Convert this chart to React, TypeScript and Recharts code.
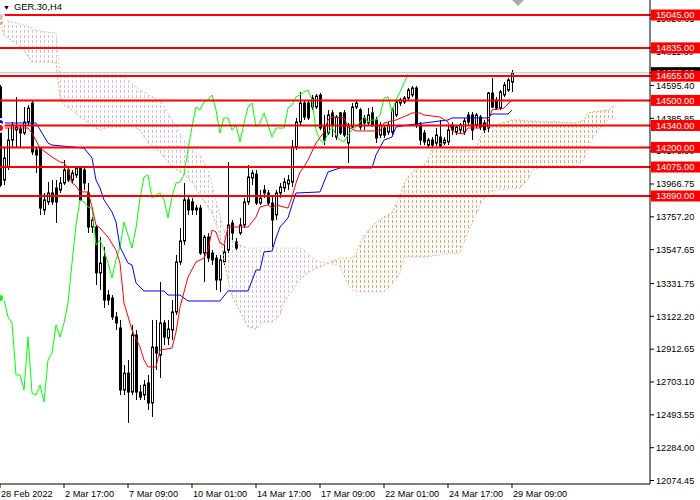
import React from 'react';
import { ComposedChart, Bar, Line, Area, XAxis, YAxis, ReferenceLine, ReferenceDot } from 'recharts';

// Zeitachse (H4-Bars, Index = Bar-Nummer)
const timeTicks = [0, 16, 32, 48, 64, 80, 96, 112, 128];
const timeLabels = ['28 Feb 2022', '2 Mar 17:00', '7 Mar 09:00', '10 Mar 01:00', '14 Mar 17:00', '17 Mar 09:00', '22 Mar 01:00', '24 Mar 17:00', '29 Mar 09:00'];

const priceTicks = [15020.65, 14811.3, 14595.4, 14385.85, 14176.3, 13966.75, 13757.2, 13547.65, 13331.75, 13122.2, 12912.65, 12703.1, 12493.55, 12284.0, 12074.45];
const levels = [15045, 14835, 14655, 14500, 14340, 14200, 14075, 13890];
const bidPrice = 14677;

// OHLC je Bar
const opens = [
  14586, 13992, 14075, 14247, 14311, 14318, 14292, 14362, 14483, 14184,
  14196, 13801, 13852, 13909, 13941, 13928, 13973, 14056, 13992, 14024,
  14069, 14056, 13909, 13692, 13692, 13399, 13501, 13258, 13239, 13118,
  13048, 12652, 12760, 12639, 13003, 12639, 12620, 12697, 12569, 12926,
  12875, 13080, 12984, 13035, 13150, 13469, 13603, 13865, 13852, 13813,
  13813, 13526, 13628, 13526, 13494, 13354, 13469, 13545, 13718, 13596,
  13654, 13705, 13852, 14005, 14030, 13845, 13928, 13909, 13845, 13769,
  13909, 13941, 13967, 13979, 14203, 14362, 14483, 14483, 14458, 14458,
  14535, 14330, 14292, 14420, 14266, 14420, 14420, 14228, 14330, 14458,
  14439, 14388, 14356, 14420, 14375, 14279, 14324, 14298, 14298, 14407,
  14483, 14490, 14515, 14535, 14579, 14343, 14292, 14215, 14247, 14228,
  14266, 14228, 14235, 14343, 14298, 14311, 14298, 14407, 14407, 14343,
  14394, 14356, 14324, 14547, 14503, 14451, 14535, 14566, 14617,
];
const highs = [
  14598, 14203, 14324, 14362, 14522, 14343, 14458, 14471, 14503, 14203,
  14203, 13909, 13979, 13992, 13992, 14011, 14120, 14069, 14056, 14075,
  14075, 14069, 13973, 13756, 13705, 13628, 13565, 13290, 13258, 13150,
  13099, 12811, 12843, 13067, 13035, 12684, 12716, 12748, 13099, 13099,
  13341, 13099, 13099, 13226, 13514, 13686, 13973, 13896, 13877, 13833,
  13833, 13641, 13654, 13545, 13514, 13514, 13577, 14107, 13737, 13622,
  13750, 13877, 14088, 14056, 14056, 13928, 13960, 13928, 13896, 13928,
  13973, 14005, 14024, 14247, 14388, 14554, 14503, 14503, 14535, 14541,
  14547, 14407, 14439, 14439, 14407, 14426, 14439, 14356, 14483, 14496,
  14451, 14407, 14451, 14458, 14394, 14362, 14343, 14362, 14451, 14503,
  14515, 14528, 14579, 14592, 14592, 14362, 14311, 14260, 14266, 14324,
  14375, 14266, 14343, 14362, 14343, 14356, 14388, 14426, 14426, 14420,
  14407, 14375, 14554, 14643, 14522, 14566, 14617, 14643, 14694,
];
const lows = [
  13948, 13960, 14056, 14203, 14196, 14196, 14279, 14343, 14152, 14037,
  13769, 13769, 13833, 13833, 13718, 13909, 13960, 13979, 13973, 14005,
  13858, 13928, 13654, 13654, 13322, 13290, 13175, 13194, 13099, 13035,
  12620, 12620, 12442, 12620, 12588, 12588, 12588, 12524, 12480, 12780,
  12729, 12939, 12939, 12971, 13131, 13450, 13577, 13769, 13769, 13769,
  13514, 13341, 13469, 13450, 13290, 13277, 13450, 13526, 13609, 13545,
  13641, 13686, 13833, 13960, 13833, 13833, 13877, 13833, 13565, 13737,
  13877, 13916, 13928, 13948, 14184, 14343, 14375, 14375, 14439, 14445,
  14311, 14215, 14279, 14266, 14247, 14279, 14266, 14101, 14324, 14445,
  14311, 14311, 14343, 14330, 14228, 14260, 14260, 14279, 14279, 14394,
  14464, 14477, 14503, 14522, 14324, 14215, 14215, 14196, 14203, 14209,
  14196, 14215, 14215, 14279, 14279, 14292, 14279, 14343, 14247, 14324,
  14311, 14292, 14298, 14451, 14439, 14439, 14522, 14554, 14554,
];
const closes = [
  13960, 14133, 14247, 14343, 14330, 14292, 14362, 14451, 14171, 14152,
  13813, 13865, 13909, 13852, 13852, 13973, 14056, 13992, 14037, 14069,
  13865, 13973, 13692, 13737, 13399, 13462, 13226, 13226, 13118, 13080,
  12652, 12760, 12639, 13003, 12639, 12607, 12684, 12569, 12926, 12888,
  13080, 12990, 13041, 13150, 13469, 13603, 13865, 13801, 13801, 13801,
  13526, 13628, 13494, 13482, 13354, 13482, 13533, 13705, 13654, 13558,
  13705, 13852, 14011, 14037, 13845, 13877, 13909, 13845, 13737, 13909,
  13948, 13979, 13992, 14203, 14362, 14483, 14394, 14388, 14515, 14528,
  14324, 14247, 14407, 14343, 14394, 14292, 14279, 14343, 14458, 14483,
  14330, 14356, 14407, 14343, 14260, 14343, 14279, 14343, 14439, 14490,
  14503, 14515, 14566, 14579, 14343, 14247, 14235, 14247, 14215, 14279,
  14209, 14247, 14311, 14311, 14330, 14343, 14369, 14362, 14311, 14407,
  14330, 14311, 14547, 14458, 14451, 14554, 14598, 14630, 14675,
];

const tenkanIdx = [0, 7, 8, 10, 13, 15, 16, 17, 18, 19, 20, 22, 23, 24, 25, 27, 29, 30, 31, 33, 35, 36, 37, 39, 40, 43, 44, 45, 47, 49, 51, 52, 53, 54, 55, 56, 57, 62, 64, 65, 67, 68, 69, 71, 72, 73, 74, 75, 76, 77, 79, 81, 82, 83, 86, 87, 89, 95, 96, 97, 99, 102, 103, 105, 106, 110, 112, 113, 114, 116, 117, 120, 121, 122, 123, 126, 128];
const tenkanVal = [14324, 14324, 14292, 14196, 14139, 14107, 14101, 14069, 13973, 13954, 13916, 13916, 13820, 13705, 13686, 13628, 13545, 13462, 13207, 13035, 12926, 12843, 12799, 12799, 12907, 12920, 13022, 13181, 13373, 13469, 13494, 13545, 13673, 13660, 13590, 13577, 13692, 13692, 13756, 13820, 13833, 13813, 13833, 13820, 13813, 13884, 13973, 14043, 14075, 14120, 14228, 14298, 14375, 14394, 14388, 14330, 14305, 14305, 14356, 14362, 14375, 14407, 14420, 14420, 14407, 14394, 14362, 14311, 14292, 14286, 14324, 14324, 14343, 14362, 14439, 14451, 14503];

// Kijun-sen (blau)
const kijunIdx = [0, 9, 12, 13, 21, 23, 24, 25, 26, 28, 29, 30, 32, 33, 34, 36, 41, 42, 45, 47, 55, 57, 62, 64, 65, 66, 68, 69, 70, 72, 73, 74, 80, 82, 85, 93, 94, 96, 98, 99, 102, 112, 113, 122, 123, 127, 128];
const kijunVal = [14356, 14356, 14228, 14215, 14196, 14133, 13992, 13941, 13865, 13788, 13724, 13565, 13462, 13450, 13335, 13284, 13284, 13258, 13258, 13220, 13220, 13284, 13284, 13418, 13418, 13533, 13539, 13622, 13692, 13750, 13833, 13909, 13916, 14043, 14069, 14069, 14152, 14247, 14266, 14330, 14343, 14375, 14388, 14388, 14413, 14413, 14439];

// Chikou Span (grün), Bar 0..102
const chikou = [
  13239, 13226, 13118, 13080, 12748, 12748, 12652, 12990, 12633, 12620,
  12684, 12575, 12843, 12888, 13067, 12990, 13080, 13207, 13462, 13705,
  13865, 13852, 13820, 13813, 13577, 13609, 13545, 13462, 13367, 13482,
  13565, 13724, 13641, 13558, 13686, 13877, 14011, 14024, 13877, 13896,
  13909, 13865, 13750, 13884, 13973, 13979, 14024, 14184, 14330, 14458,
  14439, 14490, 14503, 14535, 14439, 14292, 14388, 14388, 14311, 14343,
  14235, 14356, 14458, 14483, 14330, 14356, 14420, 14343, 14266, 14324,
  14324, 14324, 14451, 14471, 14522, 14535, 14554, 14566, 14503, 14311,
  14247, 14228, 14292, 14330, 14279, 14247, 14235, 14279, 14311, 14330,
  14362, 14394, 14362, 14375, 14375, 14407, 14515, 14522, 14426, 14503,
  14554, 14611, 14668,
];

// Kumo: Senkou Span A / B
const cloudIdx = [0, 1, 2, 4, 6, 8, 10, 12, 14, 15, 16, 18, 20, 22, 24, 25, 27, 31, 32, 34, 35, 37, 40, 43, 46, 48, 50, 52, 53, 55, 56, 57, 58, 60, 62, 64, 66, 68, 70, 71, 73, 75, 76, 78, 80, 82, 85, 87, 88, 89, 90, 92, 94, 96, 98, 100, 101, 102, 104, 106, 107, 108, 110, 112, 115, 117, 119, 120, 122, 124, 128, 130, 132, 133, 136, 140, 144, 146, 147, 148, 150, 152, 154];
const spanA = [15000, 14917, 14898, 14866, 14822, 14745, 14745, 14745, 14739, 14522, 14471, 14439, 14394, 14362, 14324, 14311, 14330, 14330, 14337, 14324, 14311, 14228, 14171, 14075, 14030, 13979, 13896, 13820, 13782, 13641, 13482, 13354, 13252, 13150, 13054, 13041, 13086, 13086, 13131, 13214, 13284, 13354, 13380, 13418, 13437, 13462, 13494, 13494, 13494, 13514, 13590, 13667, 13718, 13756, 13782, 13890, 13967, 14011, 14062, 14088, 14120, 14184, 14228, 14184, 14184, 14184, 14184, 14266, 14330, 14343, 14375, 14375, 14369, 14369, 14362, 14362, 14356, 14375, 14420, 14426, 14432, 14439, 14471];
const spanB = [15032, 15019, 15007, 14994, 14981, 14962, 14943, 14936, 14930, 14662, 14662, 14662, 14662, 14662, 14662, 14662, 14662, 14662, 14630, 14586, 14566, 14535, 14503, 14375, 14247, 14184, 14152, 14056, 13960, 13769, 13673, 13641, 13609, 13577, 13558, 13558, 13558, 13558, 13558, 13558, 13558, 13558, 13545, 13494, 13469, 13462, 13443, 13322, 13290, 13284, 13277, 13277, 13277, 13277, 13322, 13399, 13501, 13501, 13501, 13501, 13501, 13507, 13514, 13520, 13526, 13660, 13769, 13833, 13909, 13928, 13935, 13941, 13992, 14056, 14081, 14081, 14081, 14120, 14196, 14247, 14324, 14375, 14388];
const kumoSwitch = 82;

const Y_MIN = 12052.3;
const Y_MAX = 15140.7;
const FONT = '"Liberation Sans", Arial, sans-serif';

type Row = { i: number; [k: string]: any };
const rows: Row[] = [];
for (let i = 0; i <= 154; i++) rows.push({ i });
opens.forEach((o, i) => Object.assign(rows[i], { open: o, high: highs[i], low: lows[i], close: closes[i] }));
tenkanIdx.forEach((k, j) => (rows[k].tenkan = tenkanVal[j]));
kijunIdx.forEach((k, j) => (rows[k].kijun = kijunVal[j]));
chikou.forEach((v, i) => (rows[i].chikou = v));
cloudIdx.forEach((k, j) => {
  rows[k].spanA = spanA[j];
  rows[k].spanB = spanB[j];
  if (k <= kumoSwitch) rows[k].bear = [spanA[j], spanB[j]];
  if (k >= kumoSwitch) rows[k].bull = [spanB[j], spanA[j]];
});

// Reihenfolge zählt: Marken zuletzt, damit sie die normalen Ticks überdecken
const axisTicks = [...priceTicks, bidPrice, ...levels];

function Candle(props: any) {
  const { x, y, width, height, payload } = props;
  if (!payload || payload.open == null) return <g />;
  const { open, close, high, low } = payload;
  const top0 = height < 0 ? y + height : y;
  const h = Math.abs(height);
  const span = high - low || 1;
  const toY = (v: number) => top0 + ((high - v) / span) * h;
  const cx = Math.round(x + width / 2) + 0.5;
  const bTop = toY(Math.max(open, close));
  const bBot = toY(Math.min(open, close));
  const up = close >= open;
  return (
    <g>
      <line x1={cx} x2={cx} y1={top0} y2={top0 + h} stroke="#000" strokeWidth={1} />
      <rect x={cx - 1} y={bTop} width={2} height={Math.max(bBot - bTop, 0.5)} fill={up ? '#fff' : '#000'} stroke="#000" strokeWidth={1} />
    </g>
  );
}

function PriceTick(props: any) {
  const { x, y, payload } = props;
  const v = payload.value as number;
  const isLevel = levels.includes(v);
  const isBid = v === bidPrice;
  if (isLevel || isBid) {
    return (
      <g>
        <rect x={x - 5} y={y - 5.5} width={50} height={11} fill={isLevel ? '#ff0000' : '#000'} />
        <text x={x} y={y} dy="0.36em" fontSize={9.2} fontFamily={FONT} fill="#fff">
          {v.toFixed(2)}
        </text>
      </g>
    );
  }
  return (
    <text x={x} y={y} dy="0.36em" fontSize={9.2} fontFamily={FONT} fill="#000">
      {v.toFixed(2)}
    </text>
  );
}

function TimeTick(props: any) {
  const { x, y, payload } = props;
  const label = timeLabels[timeTicks.indexOf(payload.value)];
  return (
    <text x={x + 1} y={y + 7} fontSize={9.2} fontFamily={FONT} fill="#000">
      {label}
    </text>
  );
}

function ShiftMark(props: any) {
  const { cx, cy } = props;
  return <polygon points={`${cx - 6},${cy} ${cx + 6},${cy} ${cx},${cy + 6}`} fill="#a9a9a9" />;
}

export default function App() {
  return (
    <div style={{ position: 'relative', width: 700, height: 500, background: '#fff' }}>
      <style>{'body{margin:0}'}</style>
      <ComposedChart width={700} height={500} data={rows} margin={{ top: 0, right: 0, bottom: 0, left: 0 }} style={{ fontFamily: FONT }}>
        <defs>
          <pattern id="thistleDash" patternUnits="userSpaceOnUse" width={4} height={5}>
            <rect x={0} y={0} width={1} height={3} fill="#d8bfd8" />
          </pattern>
          <pattern id="orangeDash" patternUnits="userSpaceOnUse" width={4} height={5}>
            <rect x={0} y={0} width={1} height={3} fill="#f4a460" />
          </pattern>
        </defs>
        <XAxis
          dataKey="i"
          type="number"
          domain={[0, 162.5]}
          allowDataOverflow
          ticks={timeTicks}
          interval={0}
          height={16}
          axisLine={{ stroke: '#000' }}
          tickLine={{ stroke: '#000' }}
          tickSize={4}
          tick={<TimeTick />}
        />
        <YAxis
          orientation="right"
          type="number"
          domain={[Y_MIN, Y_MAX]}
          allowDataOverflow
          ticks={axisTicks}
          interval={0}
          width={50}
          axisLine={{ stroke: '#000' }}
          tickLine={{ stroke: '#000' }}
          tickSize={4}
          tickMargin={2}
          tick={<PriceTick />}
        />
        <Area type="linear" dataKey="bear" fill="url(#thistleDash)" fillOpacity={1} stroke="none" connectNulls isAnimationActive={false} />
        <Area type="linear" dataKey="bull" fill="url(#orangeDash)" fillOpacity={1} stroke="none" connectNulls isAnimationActive={false} />
        <Line type="linear" dataKey="spanA" stroke="#f4a460" strokeDasharray="2 2" strokeWidth={1} dot={false} connectNulls isAnimationActive={false} />
        <Line type="linear" dataKey="spanB" stroke="#d8bfd8" strokeDasharray="2 2" strokeWidth={1} dot={false} connectNulls isAnimationActive={false} />
        <Bar dataKey={(d: Row) => (d.open == null ? null : [d.low, d.high])} barSize={3} shape={<Candle />} isAnimationActive={false} />
        <Line type="linear" dataKey="chikou" stroke="#00ff00" strokeWidth={1} dot={false} connectNulls isAnimationActive={false} />
        <Line type="linear" dataKey="kijun" stroke="#0000ff" strokeWidth={1} dot={false} connectNulls isAnimationActive={false} />
        <Line type="linear" dataKey="tenkan" stroke="#ff0000" strokeWidth={1} dot={false} connectNulls isAnimationActive={false} />
        <ReferenceLine y={bidPrice} stroke="#c0c0c0" strokeWidth={1} />
        {levels.map((lv) => (
          <ReferenceLine key={lv} y={lv} stroke="#ff0000" strokeWidth={2} />
        ))}
        <ReferenceDot x={129.5} y={Y_MAX} r={6} ifOverflow="visible" shape={<ShiftMark />} />
      </ComposedChart>
      <div style={{ position: 'absolute', left: 3, top: 2, fontFamily: FONT, fontSize: 9.4, color: '#000', lineHeight: '10px', whiteSpace: 'nowrap' }}>
        <span style={{ fontSize: 7, marginRight: 4 }}>▼</span>GER.30,H4
      </div>
    </div>
  );
}
